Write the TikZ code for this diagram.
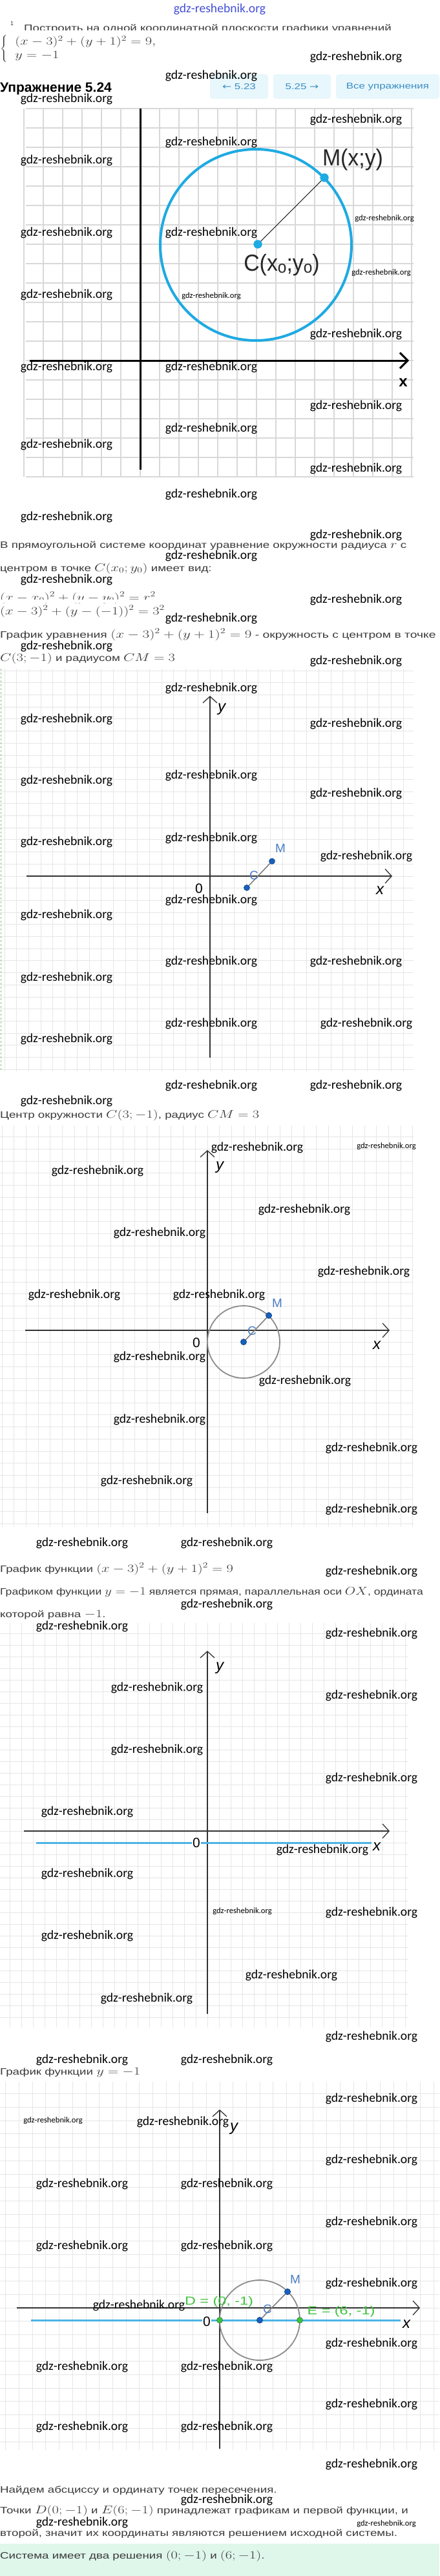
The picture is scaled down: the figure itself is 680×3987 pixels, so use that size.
\documentclass[tikz,border=0pt]{standalone}
\usepackage{fontspec}
\usepackage{graphicx}
\usetikzlibrary{arrows.meta}
\newfontfamily\arialf{Liberation Sans}
\newfontfamily\calib{Carlito}
\newfontfamily\djv{DejaVu Sans}
\definecolor{inkgray}{HTML}{3A3A3A}
\definecolor{cyanc}{HTML}{1EAAE2}
\definecolor{ggblue}{HTML}{1860BD}
\definecolor{gglabel}{HTML}{4A7EC2}
\definecolor{gggreen}{HTML}{3EC43E}
\definecolor{lineblue}{HTML}{4DB3E6}
\definecolor{btnfill}{HTML}{E8F7FC}
\definecolor{btntext}{HTML}{3A8DC4}
\definecolor{mint}{HTML}{DFF6EB}
\definecolor{gridA}{HTML}{D8D8D8}
\definecolor{gridB}{HTML}{E6E6E6}
\definecolor{wmblue}{HTML}{4450D8}
\newcommand{\wide}[1]{\scalebox{1.3}[1]{#1}}
\newcommand{\mth}[1]{{\fontsize{17.4}{21}\selectfont$#1$}}
\tikzset{
  txt/.style={anchor=base west, inner sep=0, text=inkgray, font=\arialf\fontsize{14.4}{17}\selectfont},
  wm/.style={inner sep=0, text=black, font=\calib\fontsize{19.6}{22}\selectfont},
  wms/.style={wm, font=\calib\fontsize{12.6}{14}\selectfont},
  btn/.style={fill=btnfill, rounded corners=4pt, minimum height=38pt, inner sep=0, text=btntext, font=\arialf\fontsize{13}{15}\selectfont},
  grid1/.style={gridA, line width=2.5pt},
  grid2/.style={gridB, line width=1pt},
  ax1/.style={black, line width=3pt},
  ax2/.style={black!80, line width=1.3pt},
  axtip/.style={-{Straight Barb[length=10pt,width=22pt]}},
  cpt/.style={circle, fill=cyanc, inner sep=0, minimum size=13pt},
  ggpt/.style={circle, fill=ggblue, draw=ggblue!70!black, line width=0.6pt, inner sep=0, minimum size=9pt},
  grpt/.style={circle, fill=gggreen, draw=gggreen!60!black, line width=0.6pt, inner sep=0, minimum size=9pt},
  gglab/.style={inner sep=0, text=gglabel, font=\arialf\fontsize{19}{22}\selectfont},
  axlab/.style={inner sep=0, text=black, font=\arialf\itshape\fontsize{24}{26}\selectfont},
  zero/.style={inner sep=1.5pt, text=black, font=\arialf\fontsize{21}{24}\selectfont}
}
\begin{document}
\begin{tikzpicture}[x=1pt, y=-1pt]
\useasboundingbox (0,0) rectangle (680,3987);
\fill[white] (0,0) rectangle (680,3987);

% header of the task
\node[wm, text=wmblue] (wmtop) at (340,14) {gdz-reshebnik.org};
\node[txt, font=\arialf\fontsize{9}{10}\selectfont] (num) at (16,40) {1};
\node[txt] (task) at (37,49) {\wide{Построить на одной координатной плоскости графики уравнений}};
\fill[white] (0,47) rectangle (680,53);
\node[anchor=west, inner sep=0, text=inkgray] (sys) at (0,76)
  {\wide{\mth{\left\{\begin{array}{@{\hspace{9pt}}l}(x-3)^2+(y+1)^2=9,\\ y=-1\end{array}\right.}}};
\node[anchor=base west, inner sep=0, text=black, font=\arialf\bfseries\fontsize{21}{24}\selectfont] (title) at (0,143) {Упражнение 5.24};
\node[btn, minimum width=90pt] (prev) at (370,134) {\wide{{\djv ←}\ 5.23}};
\node[btn, minimum width=89pt] (next) at (467.5,134) {\wide{5.25\ {\djv →}}};
\node[btn, minimum width=160pt] (all) at (600,134) {\wide{Все упражнения}};

% picture 1
\foreach \k in {-6,...,14} \draw[grid1] ({217+30*\k},168) -- ({217+30*\k},738);
\foreach \k in {-13,...,6} \draw[grid1] (40,{558+30*\k}) -- (640,{558+30*\k});
\coordinate (y1a) at (217,727);
\coordinate (y1b) at (217,168);
\coordinate (x1a) at (46,558);
\coordinate (x1b) at (633,558);
\draw[ax1] (y1a) -- (y1b);
\draw[ax1, -{Straight Barb[length=12pt,width=24pt]}] (x1a) -- (x1b);
\node[inner sep=0, font=\arialf\bfseries\fontsize{24}{26}\selectfont] (xl1) at (624,592) {x};
\node[cpt] (C1) at (399,378) {};
\node[cpt] (M1) at (502,275) {};
\draw[cyanc, line width=4pt] (396,379) circle[radius=148pt];
\node[cpt] at (C1) {};
\node[cpt] at (M1) {};
\draw[black, line width=0.8pt] (C1) -- (M1);
\node[inner sep=0, text=black!85, font=\arialf\fontsize{36}{40}\selectfont] (lM1) at (546,247) {\scalebox{0.94}[1]{M(x;y)}};
\node[inner sep=0, text=black!85, font=\arialf\fontsize{36}{40}\selectfont] (lC1) at (436,410)
  {\scalebox{0.94}[1]{C(x\raisebox{-3pt}{\fontsize{26}{26}\selectfont o};y\raisebox{-3pt}{\fontsize{26}{26}\selectfont o})}};

% text after picture 1
\node[txt] (t1) at (0,848) {\wide{В прямоугольной системе координат уравнение окружности радиуса \mth{r} с}};
\node[txt] (t2) at (0,884) {\wide{центром в точке \mth{C(x_0;y_0)} имеет вид:}};
\node[txt] (eq1) at (0,930) {\wide{\mth{(x-x_0)^2+(y-y_0)^2=r^2}}};
\fill[white] (0,927.5) rectangle (680,933);
\node[txt] (eq2) at (0,951) {\wide{\mth{(x-3)^2+(y-(-1))^2=3^2}}};
\node[txt] (t3) at (0,987) {\scalebox{1.34}[1]{График уравнения \mth{(x-3)^2+(y+1)^2=9} - окружность с центром в точке}};
\node[txt] (t4) at (0,1023) {\wide{\mth{C(3;-1)} и радиусом \mth{CM=3}}};

% picture 2
\foreach \k in {-17,...,16} \draw[grid2] ({325+18.7*\k},1035) -- ({325+18.7*\k},1658);
\foreach \k in {-17,...,16} \draw[grid2] (0,{1356+18.7*\k}) -- (640,{1356+18.7*\k});
\draw[green!55!black!50, dashed, line width=1pt] (1.5,1035) -- (1.5,1658);
\coordinate (y2a) at (325,1637);
\coordinate (y2b) at (325,1077);
\coordinate (x2a) at (41,1356);
\coordinate (x2b) at (607,1356);
\draw[ax2, axtip] (y2a) -- (y2b);
\draw[ax2, axtip] (x2a) -- (x2b);
\node[axlab] (yl2) at (343,1098) {y};
\node[axlab] (xl2) at (588,1378) {x};
\node[zero] (o2) at (308,1375) {0};
\node[ggpt] (C2) at (382,1374) {};
\node[ggpt] (M2) at (421,1333) {};
\draw[gray, line width=1.6pt] (C2) -- (M2);
\node[gglab] (lC2) at (393,1355) {C};
\node[gglab] (lM2) at (434,1313) {M};

\node[txt] (t5) at (0,1730) {\wide{Центр окружности \mth{C(3;-1)}, радиус \mth{CM=3}}};

% picture 3
\foreach \k in {-17,...,17} \draw[grid2] ({321+18.7*\k},1742) -- ({321+18.7*\k},2363);
\foreach \k in {-16,...,16} \draw[grid2] (0,{2059+18.7*\k}) -- (640,{2059+18.7*\k});
\coordinate (y3a) at (321,2342);
\coordinate (y3b) at (321,1780);
\coordinate (x3a) at (39,2059);
\coordinate (x3b) at (603,2059);
\draw[ax2, axtip] (y3a) -- (y3b);
\draw[ax2, axtip] (x3a) -- (x3b);
\node[axlab] (yl3) at (340,1807) {y};
\node[axlab] (xl3) at (583,2082) {x};
\node[zero] (o3) at (304,2078) {0};
\node[ggpt] (C3) at (377,2077) {};
\node[ggpt] (M3) at (416,2036) {};
\draw[gray!90, line width=1.8pt] (C3.center) circle[radius=56pt];
\draw[gray, line width=1.6pt] (C3) -- (M3);
\node[ggpt] at (C3) {};
\node[ggpt] at (M3) {};
\node[gglab] (lC3) at (390,2060) {C};
\node[gglab] (lM3) at (429,2017) {M};

\node[txt] (t6) at (0,2433) {\wide{График функции \mth{(x-3)^2+(y+1)^2=9}}};
\node[txt] (t7) at (0,2468) {\scalebox{1.22}[1]{Графиком функции \mth{y=-1} является прямая, параллельная оси \mth{OX}, ордината}};
\node[txt] (t8) at (0,2503) {\wide{которой равна \mth{-1}.}};

% picture 4
\foreach \k in {-17,...,17} \draw[grid2] ({321+18*\k},2512) -- ({321+18*\k},3138);
\foreach \k in {-17,...,16} \draw[grid2] (0,{2834+18*\k}) -- (632,{2834+18*\k});
\coordinate (y4a) at (321,3117);
\coordinate (y4b) at (321,2555);
\coordinate (x4a) at (37,2834);
\coordinate (x4b) at (603,2834);
\draw[ax2, axtip] (y4a) -- (y4b);
\draw[ax2, axtip] (x4a) -- (x4b);
\coordinate (l4a) at (56,2852);
\coordinate (l4b) at (575,2852);
\draw[lineblue, line width=3pt] (l4a) -- (l4b);
\node[zero, fill=white] (o4) at (304,2852) {0};
\node[axlab] (yl4) at (340,2582) {y};
\node[axlab] (xl4) at (583,2858) {x};

\node[txt] (t9) at (0,3211) {\wide{График функции \mth{y=-1}}};

% picture 5
\foreach \k in {-16,...,16} \draw[grid2] ({340+20.7*\k},3222) -- ({340+20.7*\k},3792);
\foreach \k in {-16,...,10} \draw[grid2] (0,{3572+20.7*\k}) -- (680,{3572+20.7*\k});
\coordinate (y5a) at (340,3790);
\coordinate (y5b) at (340,3265);
\coordinate (x5a) at (26,3572);
\coordinate (x5b) at (650,3572);
\draw[ax2, axtip] (y5a) -- (y5b);
\draw[ax2, axtip] (x5a) -- (x5b);
\coordinate (l5a) at (48,3591);
\coordinate (l5b) at (620,3591);
\draw[lineblue, line width=3pt] (l5a) -- (l5b);
\node[zero, fill=white] (o5) at (320,3593) {0};
\node[axlab] (yl5) at (362,3295) {y};
\node[axlab] (xl5) at (629,3597) {x};
\node[ggpt] (C5) at (402,3591) {};
\node[ggpt] (M5) at (445,3547) {};
\draw[gray!90, line width=1.8pt] (C5.center) circle[radius=62pt];
\draw[gray, line width=1.6pt] (C5) -- (M5);
\node[ggpt] at (C5) {};
\node[ggpt] at (M5) {};
\node[grpt] (D5) at (340,3591) {};
\node[grpt] (E5) at (464,3591) {};
\node[gglab] (lC5) at (414,3574) {C};
\node[gglab] (lM5) at (457,3528) {M};
\node[gglab, text=gggreen, font=\arialf\fontsize{18}{20}\selectfont] (lD5) at (339,3563) {\wide{D = (0, -1)}};
\node[gglab, text=gggreen, font=\arialf\fontsize{18}{20}\selectfont] (lE5) at (528,3578) {\wide{E = (6, -1)}};

% closing text
\node[txt] (t10) at (0,3858) {\wide{Найдем абсциссу и ординату точек пересечения.}};
\node[txt] (t11) at (0,3890) {\wide{Точки \mth{D(0;-1)} и \mth{E(6;-1)} принадлежат графикам и первой функции, и}};
\node[txt] (t12) at (0,3925) {\wide{второй, значит их координаты являются решением исходной системы.}};
\fill[mint] (0,3937) rectangle (680,3987);
\node[txt] (t13) at (0,3960) {\wide{Система имеет два решения \mth{(0;-1)} и \mth{(6;-1)}.}};

% watermarks
\foreach \x/\y [count=\i] in {551/88, 327/117, 103/153, 551/185, 327/220, 103/248, 103/360, 327/360,
  103/456, 551/517, 103/568, 327/568, 551/628, 327/663, 103/688, 551/725, 327/765, 103/800, 551/828,
  327/860, 103/897, 551/928, 327/957, 103/1000, 551/1023, 327/1065, 103/1113, 551/1120, 327/1200,
  103/1208, 551/1228, 327/1297, 103/1303, 567/1325, 327/1393, 103/1416, 327/1488, 551/1488, 103/1513,
  327/1584, 567/1584, 103/1608, 327/1680, 551/1680, 103/1704, 398/1776, 151/1812, 471/1872, 247/1908,
  563/1968, 115/2004, 339/2004, 247/2100, 472/2137, 247/2197, 575/2241, 227/2292, 575/2336, 127/2388,
  351/2388, 575/2432, 351/2483, 127/2517, 575/2528, 243/2612, 575/2624, 243/2708, 575/2752, 135/2804,
  499/2863, 135/2900, 575/2960, 135/2996, 451/3057, 227/3093, 575/3152, 127/3188, 351/3188, 575/3248,
  283/3284, 575/3343, 127/3380, 351/3380, 575/3439, 127/3476, 351/3476, 575/3534, 215/3568, 575/3627,
  127/3663, 351/3663, 575/3721, 127/3756, 351/3756, 575/3814, 351/3869, 127/3904}
  \node[wm] (wm\i) at (\x,\y) {gdz-reshebnik.org};
\foreach \x/\y [count=\i] in {595/338, 590/422, 327/458, 598/1774, 375/2958, 82/3282, 598/3906}
  \node[wms] (ws\i) at (\x,\y) {gdz-reshebnik.org};
\end{tikzpicture}
\end{document}
